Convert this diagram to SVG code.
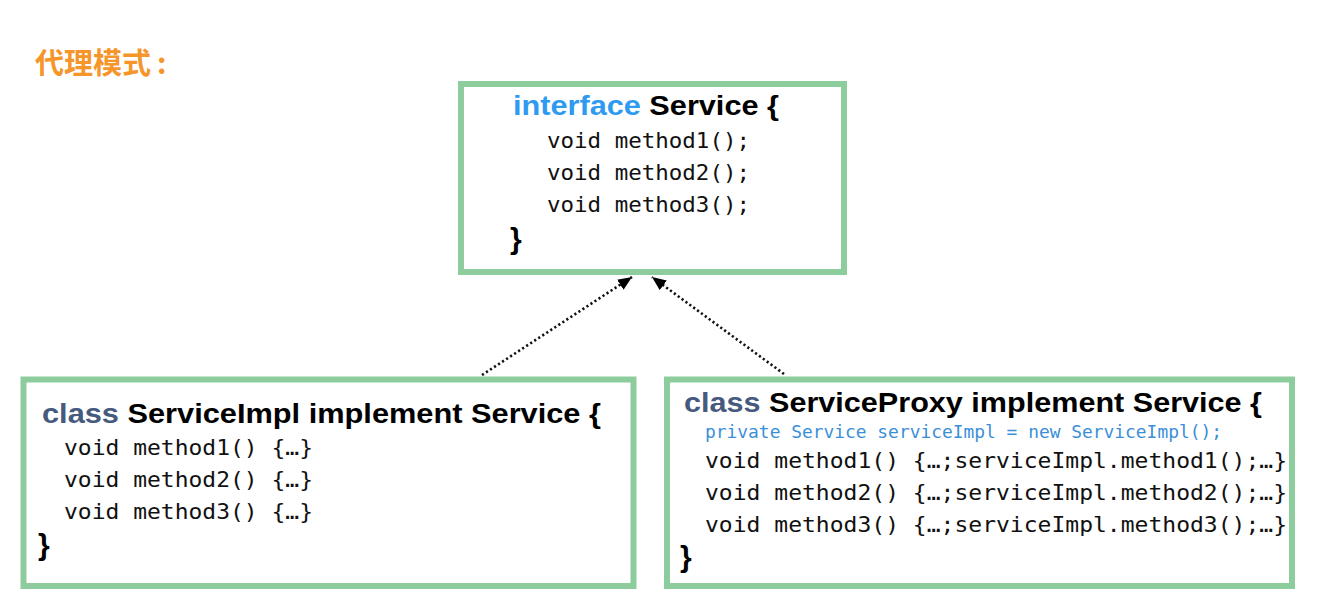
<svg xmlns="http://www.w3.org/2000/svg" width="1320" height="610" viewBox="0 0 1320 610">
<defs>
<style>
.box{fill:#ffffff;stroke:#8dcd9d;stroke-width:6}
.hd{font-family:"Liberation Sans",Arial,sans-serif;font-weight:bold;font-size:28px;fill:#000}
.kw{fill:#2f9bf0}
.cls{fill:#465a7e}
.code{font-family:"DejaVu Sans Mono","Liberation Mono",monospace;font-size:22px;fill:#111}
.priv{font-family:"DejaVu Sans Mono","Liberation Mono",monospace;font-size:18px;fill:#3b8fd8}
.brace{font-family:"Liberation Sans",Arial,sans-serif;font-weight:bold;font-size:30px;fill:#000}
.title{font-family:"Noto Sans CJK SC","Noto Sans",sans-serif;font-weight:bold;font-size:29px;fill:#f5952a}
.conn{fill:none;stroke:#111;stroke-width:2.6;stroke-dasharray:2.2 2.6}
</style>
<marker id="arr" viewBox="0 0 14 12" refX="14" refY="6" markerWidth="14" markerHeight="12" markerUnits="userSpaceOnUse" orient="auto">
<path d="M0,0 L14,6 L0,12 Z" fill="#000"/>
</marker>
</defs>
<rect width="1320" height="610" fill="#ffffff"/>
<text class="title" x="35" y="74">代理模式<tspan dx="6">:</tspan></text>

<g id="connectors">
<line class="conn" x1="482" y1="375" x2="632" y2="277" marker-end="url(#arr)"/>
<line class="conn" x1="784" y1="374" x2="652" y2="277" marker-end="url(#arr)"/>
</g>

<g id="service">
<rect class="box" x="461" y="84" width="383" height="188"/>
<text class="hd" x="513" y="115" textLength="266" lengthAdjust="spacingAndGlyphs"><tspan class="kw">interface</tspan> Service {</text>
<text class="code" x="547" y="148" textLength="203" lengthAdjust="spacingAndGlyphs">void method1();</text>
<text class="code" x="547" y="180" textLength="203" lengthAdjust="spacingAndGlyphs">void method2();</text>
<text class="code" x="547" y="212" textLength="203" lengthAdjust="spacingAndGlyphs">void method3();</text>
<text class="brace" x="510" y="249">}</text>
</g>

<g id="serviceImpl">
<rect class="box" x="23.5" y="379.5" width="610" height="206.5"/>
<text class="hd" x="42" y="423" textLength="559" lengthAdjust="spacingAndGlyphs"><tspan class="cls">class</tspan> ServiceImpl implement Service {</text>
<text class="code" x="64" y="455" textLength="249" lengthAdjust="spacingAndGlyphs">void method1() {…}</text>
<text class="code" x="64" y="487" textLength="249" lengthAdjust="spacingAndGlyphs">void method2() {…}</text>
<text class="code" x="64" y="519" textLength="249" lengthAdjust="spacingAndGlyphs">void method3() {…}</text>
<text class="brace" x="38" y="555">}</text>
</g>

<g id="serviceProxy">
<rect class="box" x="667" y="379.5" width="625" height="206.5"/>
<text class="hd" x="684" y="412" textLength="578" lengthAdjust="spacingAndGlyphs"><tspan class="cls">class</tspan> ServiceProxy implement Service {</text>
<text class="priv" x="705" y="438" textLength="517" lengthAdjust="spacingAndGlyphs">private Service serviceImpl = new ServiceImpl();</text>
<text class="code" x="705" y="468" textLength="582" lengthAdjust="spacingAndGlyphs">void method1() {…;serviceImpl.method1();…}</text>
<text class="code" x="705" y="500" textLength="582" lengthAdjust="spacingAndGlyphs">void method2() {…;serviceImpl.method2();…}</text>
<text class="code" x="705" y="532" textLength="582" lengthAdjust="spacingAndGlyphs">void method3() {…;serviceImpl.method3();…}</text>
<text class="brace" x="680" y="567">}</text>
</g>
</svg>
